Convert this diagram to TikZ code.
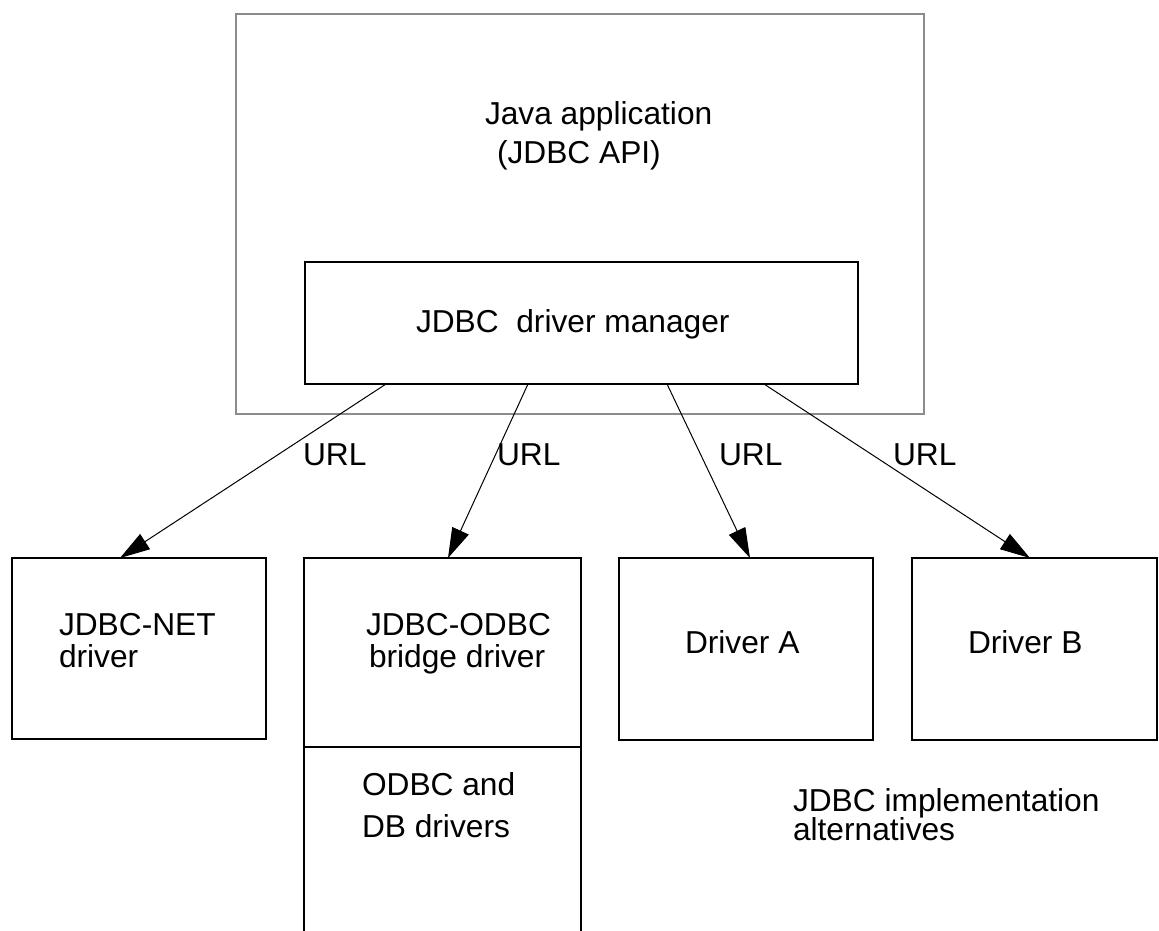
\documentclass[tikz,border=0pt]{standalone}
\usepackage{fontspec}
\setmainfont{Liberation Sans}
\usetikzlibrary{arrows.meta}
\begin{document}
\begin{tikzpicture}[x=1pt,y=-1pt,
  box/.style={draw=black,line width=1.4pt,rectangle,inner sep=0pt,outer sep=0pt,anchor=north west},
  appbox/.style={box,draw=black!45},
  lbl/.style={inner sep=0pt,outer sep=0pt,anchor=base west,font=\fontsize{31.7}{36}\selectfont},
  arr/.style={line width=1pt,-{Triangle[length=30pt,width=18pt]}}]
\useasboundingbox (0,0) rectangle (1159,930);

% outer application box and driver manager
\node[appbox,minimum width=688pt,minimum height=400pt] (app) at (236,14) {};
\node[box,minimum width=553pt,minimum height=122pt] (mgr) at (305,262) {};

% driver boxes
\node[box,minimum width=254pt,minimum height=181pt] (net) at (12,558) {};
\node[box,minimum width=277pt,minimum height=189pt] (bridge) at (304,558) {};
\node[box,minimum width=254pt,minimum height=182pt] (drva) at (619,558) {};
\node[box,minimum width=245pt,minimum height=182pt] (drvb) at (912,558) {};

% open lower part under the bridge driver
\coordinate (bl) at (304,935);
\coordinate (br) at (581,935);
\draw[line width=1.4pt] (bridge.south west) -- (bl);
\draw[line width=1.4pt] (bridge.south east) -- (br);

% texts
\node[lbl] (t1) at (485,124) {Java application};
\node[lbl] (t2) at (497,163) {(JDBC API)};
\node[lbl] (t3) at (416,332) {JDBC\ \ driver manager};
\node[lbl] (n1) at (59,635) {JDBC-NET};
\node[lbl] (n2) at (59,667) {driver};
\node[lbl] (o1) at (366,635) {JDBC-ODBC};
\node[lbl] (o2) at (369,667) {bridge driver};
\node[lbl] (d1) at (362,795) {ODBC and};
\node[lbl] (d2) at (362,837) {DB drivers};
\node[lbl] (a1) at (685,653) {Driver A};
\node[lbl] (b1) at (968,653) {Driver B};
\node[lbl] (i1) at (793,811) {JDBC implementation};
\node[lbl] (i2) at (793,840) {alternatives};

% connections from the manager to each driver
\draw[arr] ([xshift=81pt]mgr.south west) -- ([xshift=108pt]net.north west);
\draw[arr] ([xshift=223pt]mgr.south west) -- ([xshift=144pt]bridge.north west);
\draw[arr] ([xshift=362pt]mgr.south west) -- ([xshift=131pt]drva.north west);
\draw[arr] ([xshift=459pt]mgr.south west) -- ([xshift=118pt]drvb.north west);

\node[lbl] (u1) at (303,465) {URL};
\node[lbl] (u2) at (497,465) {URL};
\node[lbl] (u3) at (719,465) {URL};
\node[lbl] (u4) at (893,465) {URL};
\end{tikzpicture}
\end{document}
